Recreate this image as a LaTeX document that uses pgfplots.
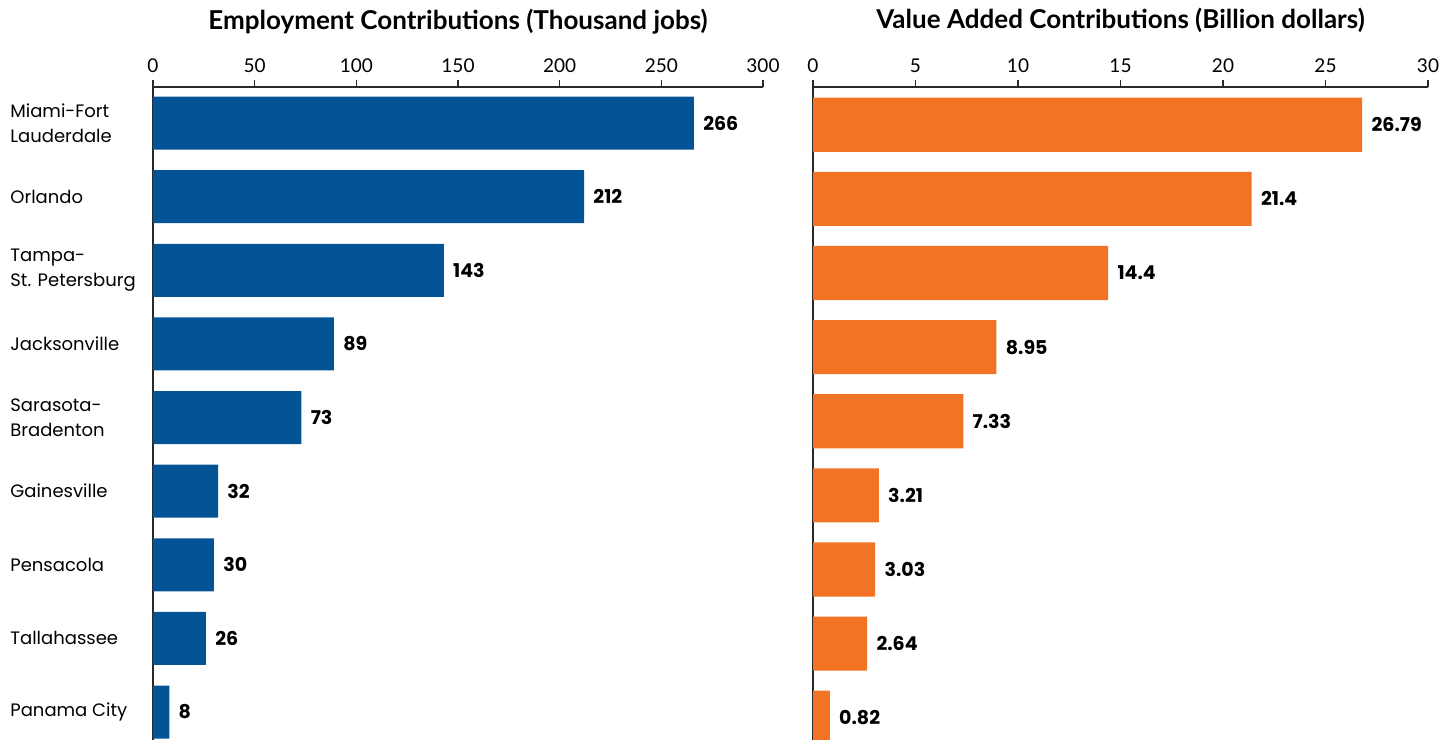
\documentclass[border=0pt]{standalone}
\usepackage{fontspec}
\setmainfont{Poppins}
\newfontfamily\lato{Lato}
\usepackage{pgfplots}
\pgfplotsset{compat=1.18}
\definecolor{barblue}{RGB}{2,84,150}
\definecolor{barorange}{RGB}{243,115,36}
\definecolor{axgray}{RGB}{40,40,40}
\pgfplotsset{mystyle/.style={
  scale only axis, anchor=south west, height=326.5pt,
  xbar, axis x line*=top, axis y line*=left,
  axis line style={axgray, line width=0.7pt, -},
  xtick style={axgray, line width=0.7pt}, tick align=outside, major tick length=3.5pt,
  ytick style={draw=none},
  x tick label style={font=\lato\fontsize{9.5}{11}\selectfont, /pgf/number format/assume math mode=true},
  title style={font=\lato\bfseries\fontsize{13}{15}\selectfont, anchor=base, at={(0.5,1)}, yshift=23pt},
  point meta=explicit symbolic, nodes near coords,
  nodes near coords style={font=\fontsize{9.5}{11}\selectfont\bfseries, anchor=west, inner sep=0pt, xshift=4.5pt},
  ytick={0,...,8}, xmin=0,
}}
\begin{document}
\begin{tikzpicture}
\useasboundingbox (0,0) rectangle (724pt,370pt);
\begin{axis}[mystyle, at={(76.5pt,0pt)}, width=305pt,
  xmax=300, xtick={0,50,...,300},
  ymin=-0.38, ymax=8.49, bar width=0.72,
  title={Employment Contributions (Thousand jobs)},
  yticklabels={{Panama City},{Tallahassee},{Pensacola},{Gainesville},{Sarasota-\\Bradenton},{Jacksonville},{Tampa-\\St. Petersburg},{Orlando},{Miami-Fort\\Lauderdale}},
  y tick label style={font=\fontsize{9}{12.5}\selectfont, anchor=west, align=left, inner sep=0pt, xshift=-68pt},
]
\addplot[fill=barblue, draw=none] coordinates {
  (8,0) [8] (26,1) [26] (30,2) [30] (32,3) [32] (73,4) [73]
  (89,5) [89] (143,6) [143] (212,7) [212] (266,8) [266]};
\end{axis}
\begin{axis}[mystyle, at={(406.5pt,0pt)}, width=307.5pt,
  xmax=30, xtick={0,5,...,30},
  ymin=-0.30, ymax=8.51, bar width=0.73, yticklabels={},
  title={Value Added Contributions (Billion dollars)},
]
\addplot[fill=barorange, draw=none] coordinates {
  (0.82,0) [0.82] (2.64,1) [2.64] (3.03,2) [3.03] (3.21,3) [3.21] (7.33,4) [7.33]
  (8.95,5) [8.95] (14.4,6) [14.4] (21.4,7) [21.4] (26.79,8) [26.79]};
\end{axis}
\end{tikzpicture}
\end{document}
